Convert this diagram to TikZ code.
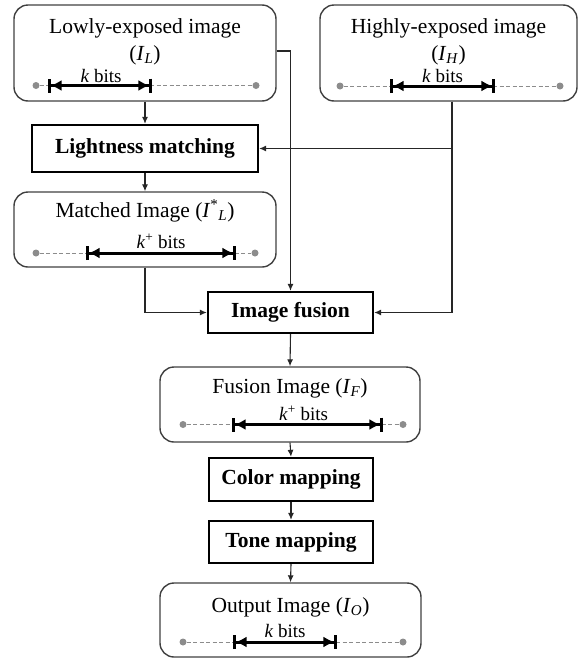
\documentclass[tikz,border=0pt]{standalone}
\usepackage{fontspec}
\setmainfont{Liberation Serif}
\usetikzlibrary{arrows.meta}
\newcommand{\bigtxt}{\fontsize{21.5}{24}\selectfont}
\newcommand{\smtxt}{\fontsize{19}{21}\selectfont}
\begin{document}
\begin{tikzpicture}[x=1pt,y=-1pt,
  imgbox/.style={draw=black!75, line width=1.4pt, rounded corners=14pt, inner sep=0pt},
  procbox/.style={draw=black, line width=2.3pt, inner sep=0pt, font=\bigtxt\bfseries},
  boxtext/.style={anchor=base, inner sep=0pt, font=\bigtxt},
  bitstext/.style={anchor=base, inner sep=0pt, font=\smtxt},
  conn/.style={draw=black!85, line width=1.1pt, -{Latex[length=7pt,width=6pt]}},
  dashline/.style={draw=black!45, line width=0.9pt, dash pattern=on 4pt off 2.5pt},
  kbar/.style={draw=black, line width=3pt, {Bar[width=14pt,line width=2.6pt]Latex[length=11pt,width=11pt]}-{Latex[length=11pt,width=11pt]Bar[width=14pt,line width=2.6pt]}},
  dot/.style={circle, fill=black!45, inner sep=0pt, minimum size=7pt}
]
\useasboundingbox (0,0) rectangle (585,659);

% image boxes
\node[imgbox, minimum width=262pt, minimum height=96pt] (L) at (145,53) {};
\node[imgbox, minimum width=257pt, minimum height=96pt] (H) at (448.5,53) {};
\node[imgbox, minimum width=262pt, minimum height=75pt] (M) at (145,229.5) {};
\node[imgbox, minimum width=260pt, minimum height=75pt] (F) at (290,404.5) {};
\node[imgbox, minimum width=261pt, minimum height=74pt] (O) at (290.5,620) {};

% process boxes
\node[procbox, minimum width=226pt, minimum height=47pt] (LM) at (145,148.5) {Lightness matching};
\node[procbox, minimum width=165pt, minimum height=41pt] (IF) at (290.5,312.5) {Image fusion};
\node[procbox, minimum width=164pt, minimum height=43pt] (CM) at (291,479.5) {Color mapping};
\node[procbox, minimum width=164pt, minimum height=42pt] (TM) at (291,542) {Tone mapping};

% box texts
\node[boxtext] (Lt1) at (145,33) {Lowly-exposed image};
\node[boxtext] (Lt2) at (145,60) {(\textit{I}\textsubscript{\textit{L}})};
\node[boxtext] (Ht1) at (448.5,33) {Highly-exposed image};
\node[boxtext] (Ht2) at (448.5,60) {(\textit{I}\textsubscript{\textit{H}})};
\node[boxtext] (Mt) at (145,217) {Matched Image (\textit{I}\textsuperscript{*}\textsubscript{\textit{L}})};
\node[boxtext] (Ft) at (290,393) {Fusion Image (\textit{I}\textsubscript{\textit{F}})};
\node[boxtext] (Ot) at (290.5,612) {Output Image (\textit{I}\textsubscript{\textit{O}})};

% bit ranges
% L
\node[dot] (Ld1) at (36,85.5) {};
\node[dot] (Ld2) at (256,85.5) {};
\coordinate (Lb1) at (48,85.5);
\coordinate (Lb2) at (152,85.5);
\draw[dashline] (Ld1) -- (Ld2);
\draw[kbar] (Lb1) -- (Lb2);
\node[bitstext] (Lk) at (101,82) {\textit{k} bits};
% H
\node[dot] (Hd1) at (340,86) {};
\node[dot] (Hd2) at (560,86) {};
\coordinate (Hb1) at (390,86);
\coordinate (Hb2) at (495,86);
\draw[dashline] (Hd1) -- (Hd2);
\draw[kbar] (Hb1) -- (Hb2);
\node[bitstext] (Hk) at (442.5,82) {\textit{k} bits};
% M
\node[dot] (Md1) at (36,253) {};
\node[dot] (Md2) at (255,253) {};
\coordinate (Mb1) at (86,253);
\coordinate (Mb2) at (236,253);
\draw[dashline] (Md1) -- (Md2);
\draw[kbar] (Mb1) -- (Mb2);
\node[bitstext] (Mk) at (161,248) {\textit{k}\textsuperscript{+} bits};
% F
\node[dot] (Fd1) at (183,424.5) {};
\node[dot] (Fd2) at (403,424.5) {};
\coordinate (Fb1) at (232,424.5);
\coordinate (Fb2) at (383,424.5);
\draw[dashline] (Fd1) -- (Fd2);
\draw[kbar] (Fb1) -- (Fb2);
\node[bitstext] (Fk) at (303.5,420) {\textit{k}\textsuperscript{+} bits};
% O
\node[dot] (Od1) at (183,642) {};
\node[dot] (Od2) at (403,642) {};
\coordinate (Ob1) at (233,642);
\coordinate (Ob2) at (337,642);
\draw[dashline] (Od1) -- (Od2);
\draw[kbar] (Ob1) -- (Ob2);
\node[bitstext] (Ok) at (285,637) {\textit{k} bits};

% connectors
\coordinate (Hs) at ([xshift=3.5pt]H.south);
\draw[conn] (L.south) -- (LM.north);
\draw[conn] (LM.south) -- (M.north);
\draw[conn] (M.south) |- (IF.west);
\draw[conn] ([yshift=2pt]L.east) -| (IF.north);
\draw[conn] (Hs) |- (LM.east);
\draw[conn] (Hs) |- (IF.east);
\draw[conn] (IF.south) -- (F.north);
\draw[conn] (F.south) -- (CM.north);
\draw[conn] (CM.south) -- (TM.north);
\draw[conn] (TM.south) -- (O.north);
\end{tikzpicture}
\end{document}
